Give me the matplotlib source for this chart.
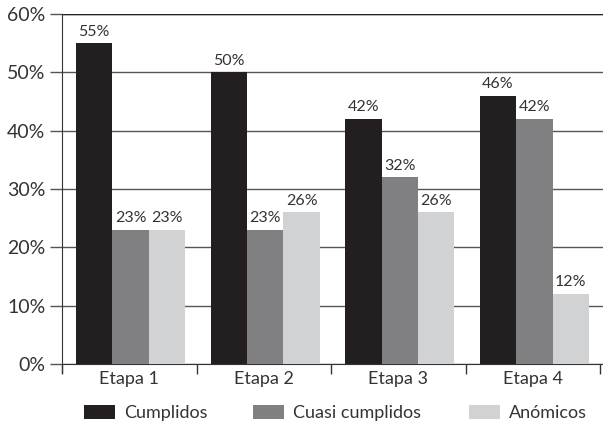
import matplotlib
matplotlib.use("Agg")
import matplotlib.pyplot as plt
import numpy as np

plt.rcParams['font.family'] = ['Lato', 'DejaVu Sans']

categories = ["Etapa 1", "Etapa 2", "Etapa 3", "Etapa 4"]
series_names = ["Cumplidos", "Cuasi cumplidos", "Anómicos"]
cumplidos = [55, 50, 42, 46]
cuasi = [23, 23, 32, 42]
anomicos = [23, 26, 26, 12]
y_ticks = [0, 10, 20, 30, 40, 50, 60]

colors = ["#231f20", "#808083", "#d1d2d4"]
text_color = "#333333"

fig = plt.figure(figsize=(6.03, 4.29), dpi=100)
W, H = 603, 429
ax = fig.add_axes([62 / W, (H - 364) / H, (W - 62) / W, (364 - 14) / H])

x = np.arange(len(categories))
bw = 0.27
series = [cumplidos, cuasi, anomicos]
bars = []
for i, (vals, name, c) in enumerate(zip(series, series_names, colors)):
    pos = x + 0.01 + (i - 1) * bw
    b = ax.bar(pos, vals, width=bw, color=c, label=name, zorder=3)
    bars.append(b)
    for px, v in zip(pos, vals):
        ax.text(px, v + 0.8, f"{v}%", ha="center", va="bottom",
                fontsize=11.5, color=text_color, zorder=4)

ax.set_ylim(0, 60)
ax.set_xlim(-0.5, 3.52)
ax.set_yticks(y_ticks)
ax.set_yticklabels([f"{t}%" for t in y_ticks], fontsize=14, color=text_color)
ax.yaxis.grid(True, color="#555555", linewidth=1.0, zorder=0)
ax.tick_params(axis="y", length=9, width=1, color="#555555", pad=3)

ax.set_xticks(x)
ax.set_xticklabels(categories, fontsize=13, color=text_color)
ax.tick_params(axis="x", which="major", length=0, pad=5)
ax.set_xticks(np.arange(-0.5, 4.0, 1.0), minor=True)
ax.tick_params(axis="x", which="minor", length=7, width=1, color=text_color)

for s in ["top", "right"]:
    ax.spines[s].set_visible(False)
ax.spines["left"].set_color(text_color)
ax.spines["bottom"].set_color(text_color)
ax.spines["left"].set_bounds(-1.4, 60)
ax.spines["left"].set_clip_on(False)
ax.axhline(60, color="#222222", linewidth=1.0, zorder=2)

# one legend entry per slot along the bottom
legend_x = [84, 253, 469]
for b, name, lx in zip(bars, series_names, legend_x):
    fig.legend([b], [name], loc="center left", bbox_to_anchor=(lx / W, (H - 413) / H),
               frameon=False, fontsize=13, handlelength=1.7, handleheight=0.8,
               handletextpad=0.5, borderpad=0, borderaxespad=0, labelcolor=text_color)

fig.savefig("out.png", dpi=100)
